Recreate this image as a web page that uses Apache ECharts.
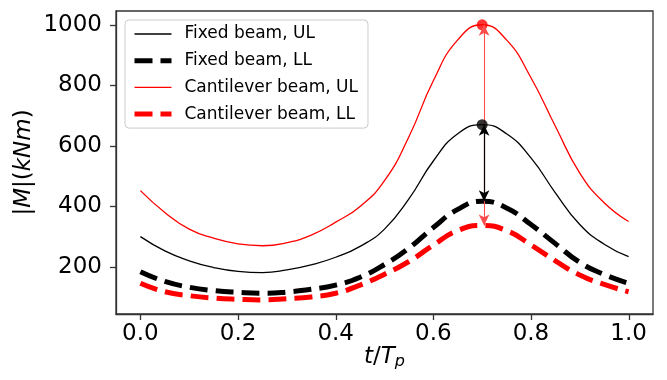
<!DOCTYPE html>
<html>
<head>
<meta charset="utf-8">
<script src="https://cdn.jsdelivr.net/npm/echarts@6/dist/echarts.min.js"></script>
<style>
  html, body { margin: 0; padding: 0; background: #fff; }
  #chart { width: 667px; height: 380px; }
</style>
</head>
<body>
<div id="chart"></div>
<script>
// t / Tp sample points
const tValues = [0, 0.05, 0.1, 0.15, 0.2, 0.25, 0.3, 0.35, 0.4, 0.45, 0.5,
                 0.55, 0.6, 0.65, 0.7, 0.75, 0.8, 0.85, 0.9, 0.95, 1.0]
// |M| (kNm)
const fixedUL = [300, 253, 220, 198, 185, 181, 190, 207, 232, 268, 325,
                 425, 550, 640, 670, 640, 560, 445, 340, 275, 234]
const fixedLL = [184, 152, 133, 122, 116, 113, 117, 126, 140, 166, 208,
                 262, 330, 390, 417, 395, 340, 277, 215, 175, 146]
const cantUL = [452, 380, 325, 295, 276, 270, 280, 305, 348, 400, 485,
                630, 815, 950, 1000, 950, 825, 665, 510, 412, 350]
const cantLL = [146, 118, 105, 97, 93, 91, 95, 101, 113, 140, 176,
                218, 272, 320, 337, 320, 273, 220, 173, 142, 118]

const xTicks = [0, 0.2, 0.4, 0.6, 0.8, 1.0]
const yTicks = [200, 400, 600, 800, 1000]
const xRange = [-0.05, 1.05]
const yRange = [44.5, 1045.5]

// peak markers and the UL -> LL arrows
const peakT = 0.7
const arrowT = 0.704
const fixedArrow = [670, 417]
const cantArrow = [1000, 337]

const FONT = 'DejaVu Sans'
const DASH = [18, 8]
const TICK = 6
const pairs = (ys) => tValues.map((t, i) => [t, ys[i]])
const isTick = (list, v) => list.some(t => Math.abs(t - v) < 1e-6)

const chart = echarts.init(document.getElementById('chart'), null, { renderer: 'canvas' })

const lineSeries = (name, ys, color, width, dash) => ({
    name: name,
    type: 'line',
    data: pairs(ys),
    smooth: 0.5,
    symbol: 'none',
    showSymbol: false,
    lineStyle: { color: color, width: width, type: dash || 'solid', cap: 'butt' },
    itemStyle: { color: color },
    z: 2
})

const legendItem = (name, color, width, dash) => ({
    name: name,
    itemStyle: { opacity: 0, borderWidth: 0 },
    lineStyle: { color: color, width: width, type: dash || 'solid', opacity: 1, cap: 'butt' }
})

const arrowMark = (ys, color, width) => ({
    silent: true,
    symbol: ['arrow', 'arrow'],
    symbolSize: [8, 11],
    label: { show: false },
    lineStyle: { color: color, width: width, type: 'solid' },
    emphasis: { disabled: true },
    data: [[{ coord: [arrowT, ys[0]] }, { coord: [arrowT, ys[1]] }]]
})

const option = {
    animation: false,
    backgroundColor: '#fff',
    grid: {
        left: 116, right: 14, top: 11, bottom: 66,
        show: true, borderColor: '#333', borderWidth: 1.3, backgroundColor: 'transparent'
    },
    legend: {
        data: [
            legendItem('Fixed beam, UL', '#000', 1.3),
            legendItem('Fixed beam, LL', '#000', 5, DASH),
            legendItem('Cantilever beam, UL', '#ff0000', 1.3),
            legendItem('Cantilever beam, LL', '#ff0000', 5, DASH)
        ],
        orient: 'vertical',
        left: 125, top: 20,
        padding: [5, 10, 5, 7],
        itemWidth: 37, itemHeight: 14, itemGap: 8.7,
        backgroundColor: 'rgba(255,255,255,0.8)',
        borderColor: '#ccc', borderWidth: 1, borderRadius: 4,
        selectedMode: false,
        textStyle: { fontFamily: FONT, fontSize: 17, color: '#000', lineHeight: 18, padding: [0, 0, 0, 8] }
    },
    xAxis: {
        type: 'value',
        min: xRange[0], max: xRange[1],
        splitNumber: 5,
        name: '{i|t}/{i|T}{s|p}',
        nameLocation: 'middle',
        nameGap: 30,
        nameMoveOverlap: false,
        nameTextStyle: {
            fontFamily: FONT, fontSize: 23, color: '#000',
            rich: {
                i: { fontFamily: FONT, fontSize: 23, fontStyle: 'italic', color: '#000' },
                s: { fontFamily: FONT, fontSize: 16, fontStyle: 'italic', color: '#000', padding: [10, 0, 0, 0] }
            }
        },
        axisLine: { show: true, onZero: false, lineStyle: { color: '#333', width: 1.3 } },
        splitLine: { show: false },
        axisTick: { show: false },
        axisLabel: {
            margin: 9, showMinLabel: true, showMaxLabel: true,
            fontFamily: FONT, fontSize: 23, color: '#000',
            formatter: (v) => isTick(xTicks, v) ? v.toFixed(1) : ''
        }
    },
    yAxis: {
        type: 'value',
        min: yRange[0], max: yRange[1],
        splitNumber: 5,
        name: '|{i|M}|({i|kNm})',
        nameLocation: 'middle',
        nameRotate: 90,
        nameGap: 80,
        nameMoveOverlap: false,
        nameTextStyle: {
            fontFamily: FONT, fontSize: 23, color: '#000',
            rich: {
                i: { fontFamily: FONT, fontSize: 23, fontStyle: 'italic', color: '#000' }
            }
        },
        axisLine: { show: true, onZero: false, lineStyle: { color: '#333', width: 1.3 } },
        splitLine: { show: false },
        axisTick: { show: false },
        axisLabel: {
            margin: 14, showMinLabel: true, showMaxLabel: true,
            fontFamily: FONT, fontSize: 23, color: '#000',
            formatter: (v) => isTick(yTicks, v) ? String(v) : ''
        }
    },
    series: [
        lineSeries('Fixed beam, UL', fixedUL, '#000', 1.3),
        lineSeries('Fixed beam, LL', fixedLL, '#000', 5, DASH),
        lineSeries('Cantilever beam, UL', cantUL, '#ff0000', 1.3),
        lineSeries('Cantilever beam, LL', cantLL, '#ff0000', 5, DASH),
        {
            name: 'cantPeak', type: 'scatter',
            data: [[peakT, cantArrow[0]]],
            symbolSize: 11, itemStyle: { color: '#ff0000' },
            markLine: arrowMark(cantArrow, '#ff4d4d', 1.1),
            z: 4
        },
        {
            name: 'fixedPeak', type: 'scatter',
            data: [[peakT, fixedArrow[0]]],
            symbolSize: 11, itemStyle: { color: '#000' },
            markLine: arrowMark(fixedArrow, '#000', 1.2),
            z: 5
        }
    ]
}

chart.setOption(option)

// outward tick marks, placed through the axes' own scales
const xLeft = chart.convertToPixel({ xAxisIndex: 0 }, xRange[0])
const yBottom = chart.convertToPixel({ yAxisIndex: 0 }, yRange[0])
const tickStyle = { stroke: '#333', lineWidth: 1.3 }
const ticks = []
xTicks.forEach(v => {
    const px = Math.round(chart.convertToPixel({ xAxisIndex: 0 }, v)) + 0.5
    ticks.push({ type: 'line', silent: true, shape: { x1: px, y1: yBottom, x2: px, y2: yBottom + TICK }, style: tickStyle })
})
yTicks.forEach(v => {
    const py = Math.round(chart.convertToPixel({ yAxisIndex: 0 }, v)) + 0.5
    ticks.push({ type: 'line', silent: true, shape: { x1: xLeft - TICK, y1: py, x2: xLeft, y2: py }, style: tickStyle })
})
chart.setOption({ graphic: ticks })
</script>
</body>
</html>
